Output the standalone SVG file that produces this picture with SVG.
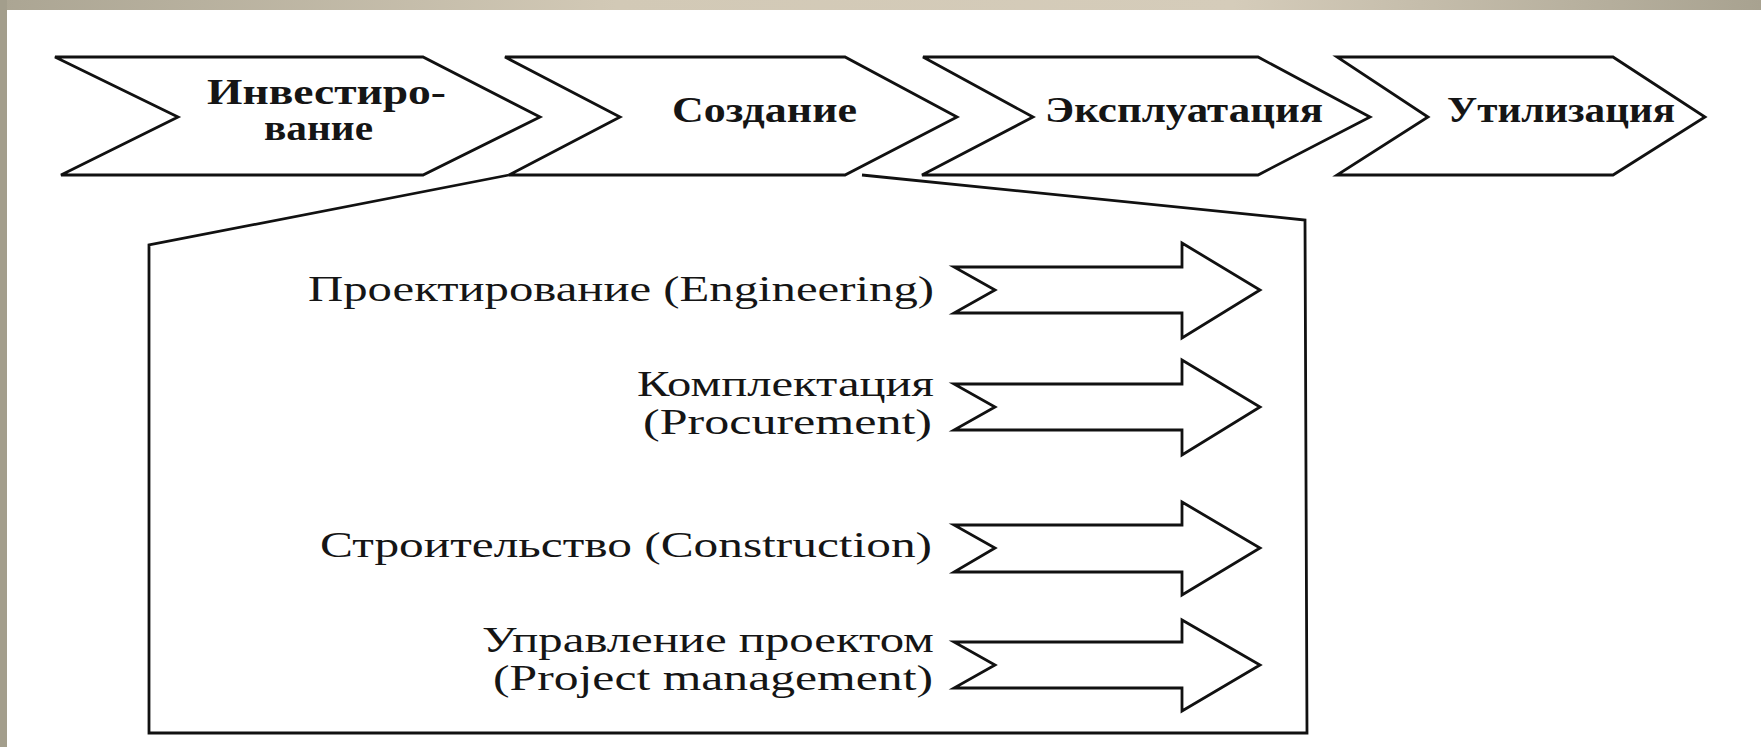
<svg xmlns="http://www.w3.org/2000/svg" width="1761" height="747" viewBox="0 0 1761 747">
  <defs>
    <linearGradient id="topband" x1="0" y1="0" x2="1" y2="0">
      <stop offset="0" stop-color="#ABA593"/>
      <stop offset="0.35" stop-color="#D2C9B6"/>
      <stop offset="0.7" stop-color="#D5CCBA"/>
      <stop offset="1" stop-color="#A8A290"/>
    </linearGradient>
    <style>
      .shape { fill: #FFFFFF; stroke: #111111; stroke-width: 2.8; stroke-linejoin: miter; }
      .line { fill: none; stroke: #111111; stroke-width: 2.8; stroke-linejoin: miter; }
      .bold { font-family: "Liberation Serif", "Times New Roman", serif; font-weight: bold; font-size: 35px; fill: #151515; }
      .reg { font-family: "Liberation Serif", "Times New Roman", serif; font-size: 35px; fill: #151515; }
    </style>
  </defs>

  <rect x="0" y="0" width="1761" height="747" fill="#FFFFFF"/>
  <rect x="0" y="0" width="1761" height="10" fill="url(#topband)"/>
  <rect x="0" y="0" width="7" height="747" fill="#A39E8C"/>

  <g id="connectors">
    <polyline class="line" points="509,175 149,245 149,733 1307,733 1305,220 862,175"/>
  </g>

  <g id="node-investirovanie">
    <polygon class="shape" points="55,57 423,57 540,117 423,175 61,175 178,117"/>
    <text class="bold" x="207" y="104" textLength="239" lengthAdjust="spacingAndGlyphs">Инвестиро-</text>
    <text class="bold" x="264" y="140" textLength="109" lengthAdjust="spacingAndGlyphs">вание</text>
  </g>

  <g id="node-sozdanie">
    <polygon class="shape" points="505,57 845,57 957,117 845,175 509,175 620,117"/>
    <text class="bold" x="672" y="122" textLength="185" lengthAdjust="spacingAndGlyphs">Создание</text>
  </g>

  <g id="node-ekspluatatsiya">
    <polygon class="shape" points="923,57 1258,57 1370,117 1258,175 922,175 1033,117"/>
    <text class="bold" x="1045" y="122" textLength="278" lengthAdjust="spacingAndGlyphs">Эксплуатация</text>
  </g>

  <g id="node-utilizatsiya">
    <polygon class="shape" points="1337,57 1613,57 1705,117 1613,175 1337,175 1428,117"/>
    <text class="bold" x="1447" y="122" textLength="228" lengthAdjust="spacingAndGlyphs">Утилизация</text>
  </g>

  <g id="node-engineering">
    <text class="reg" x="308" y="301" textLength="626" lengthAdjust="spacingAndGlyphs">Проектирование (Engineering)</text>
    <polygon class="shape" points="954,267 1182,267 1182,243 1260,290 1182,338 1182,313 954,313 995,290"/>
  </g>

  <g id="node-procurement">
    <text class="reg" x="637" y="396" textLength="297" lengthAdjust="spacingAndGlyphs">Комплектация</text>
    <text class="reg" x="643" y="434" textLength="289" lengthAdjust="spacingAndGlyphs">(Procurement)</text>
    <polygon class="shape" points="954,384 1182,384 1182,360 1260,407 1182,455 1182,430 954,430 995,407"/>
  </g>

  <g id="node-construction">
    <text class="reg" x="320" y="557" textLength="612" lengthAdjust="spacingAndGlyphs">Строительство (Construction)</text>
    <polygon class="shape" points="954,525 1182,525 1182,502 1260,548 1182,595 1182,572 954,572 995,548"/>
  </g>

  <g id="node-management">
    <text class="reg" x="482" y="652" textLength="452" lengthAdjust="spacingAndGlyphs">Управление проектом</text>
    <text class="reg" x="493" y="690" textLength="440" lengthAdjust="spacingAndGlyphs">(Project management)</text>
    <polygon class="shape" points="954,642 1182,642 1182,620 1260,665 1182,711 1182,688 954,688 995,665"/>
  </g>
</svg>
